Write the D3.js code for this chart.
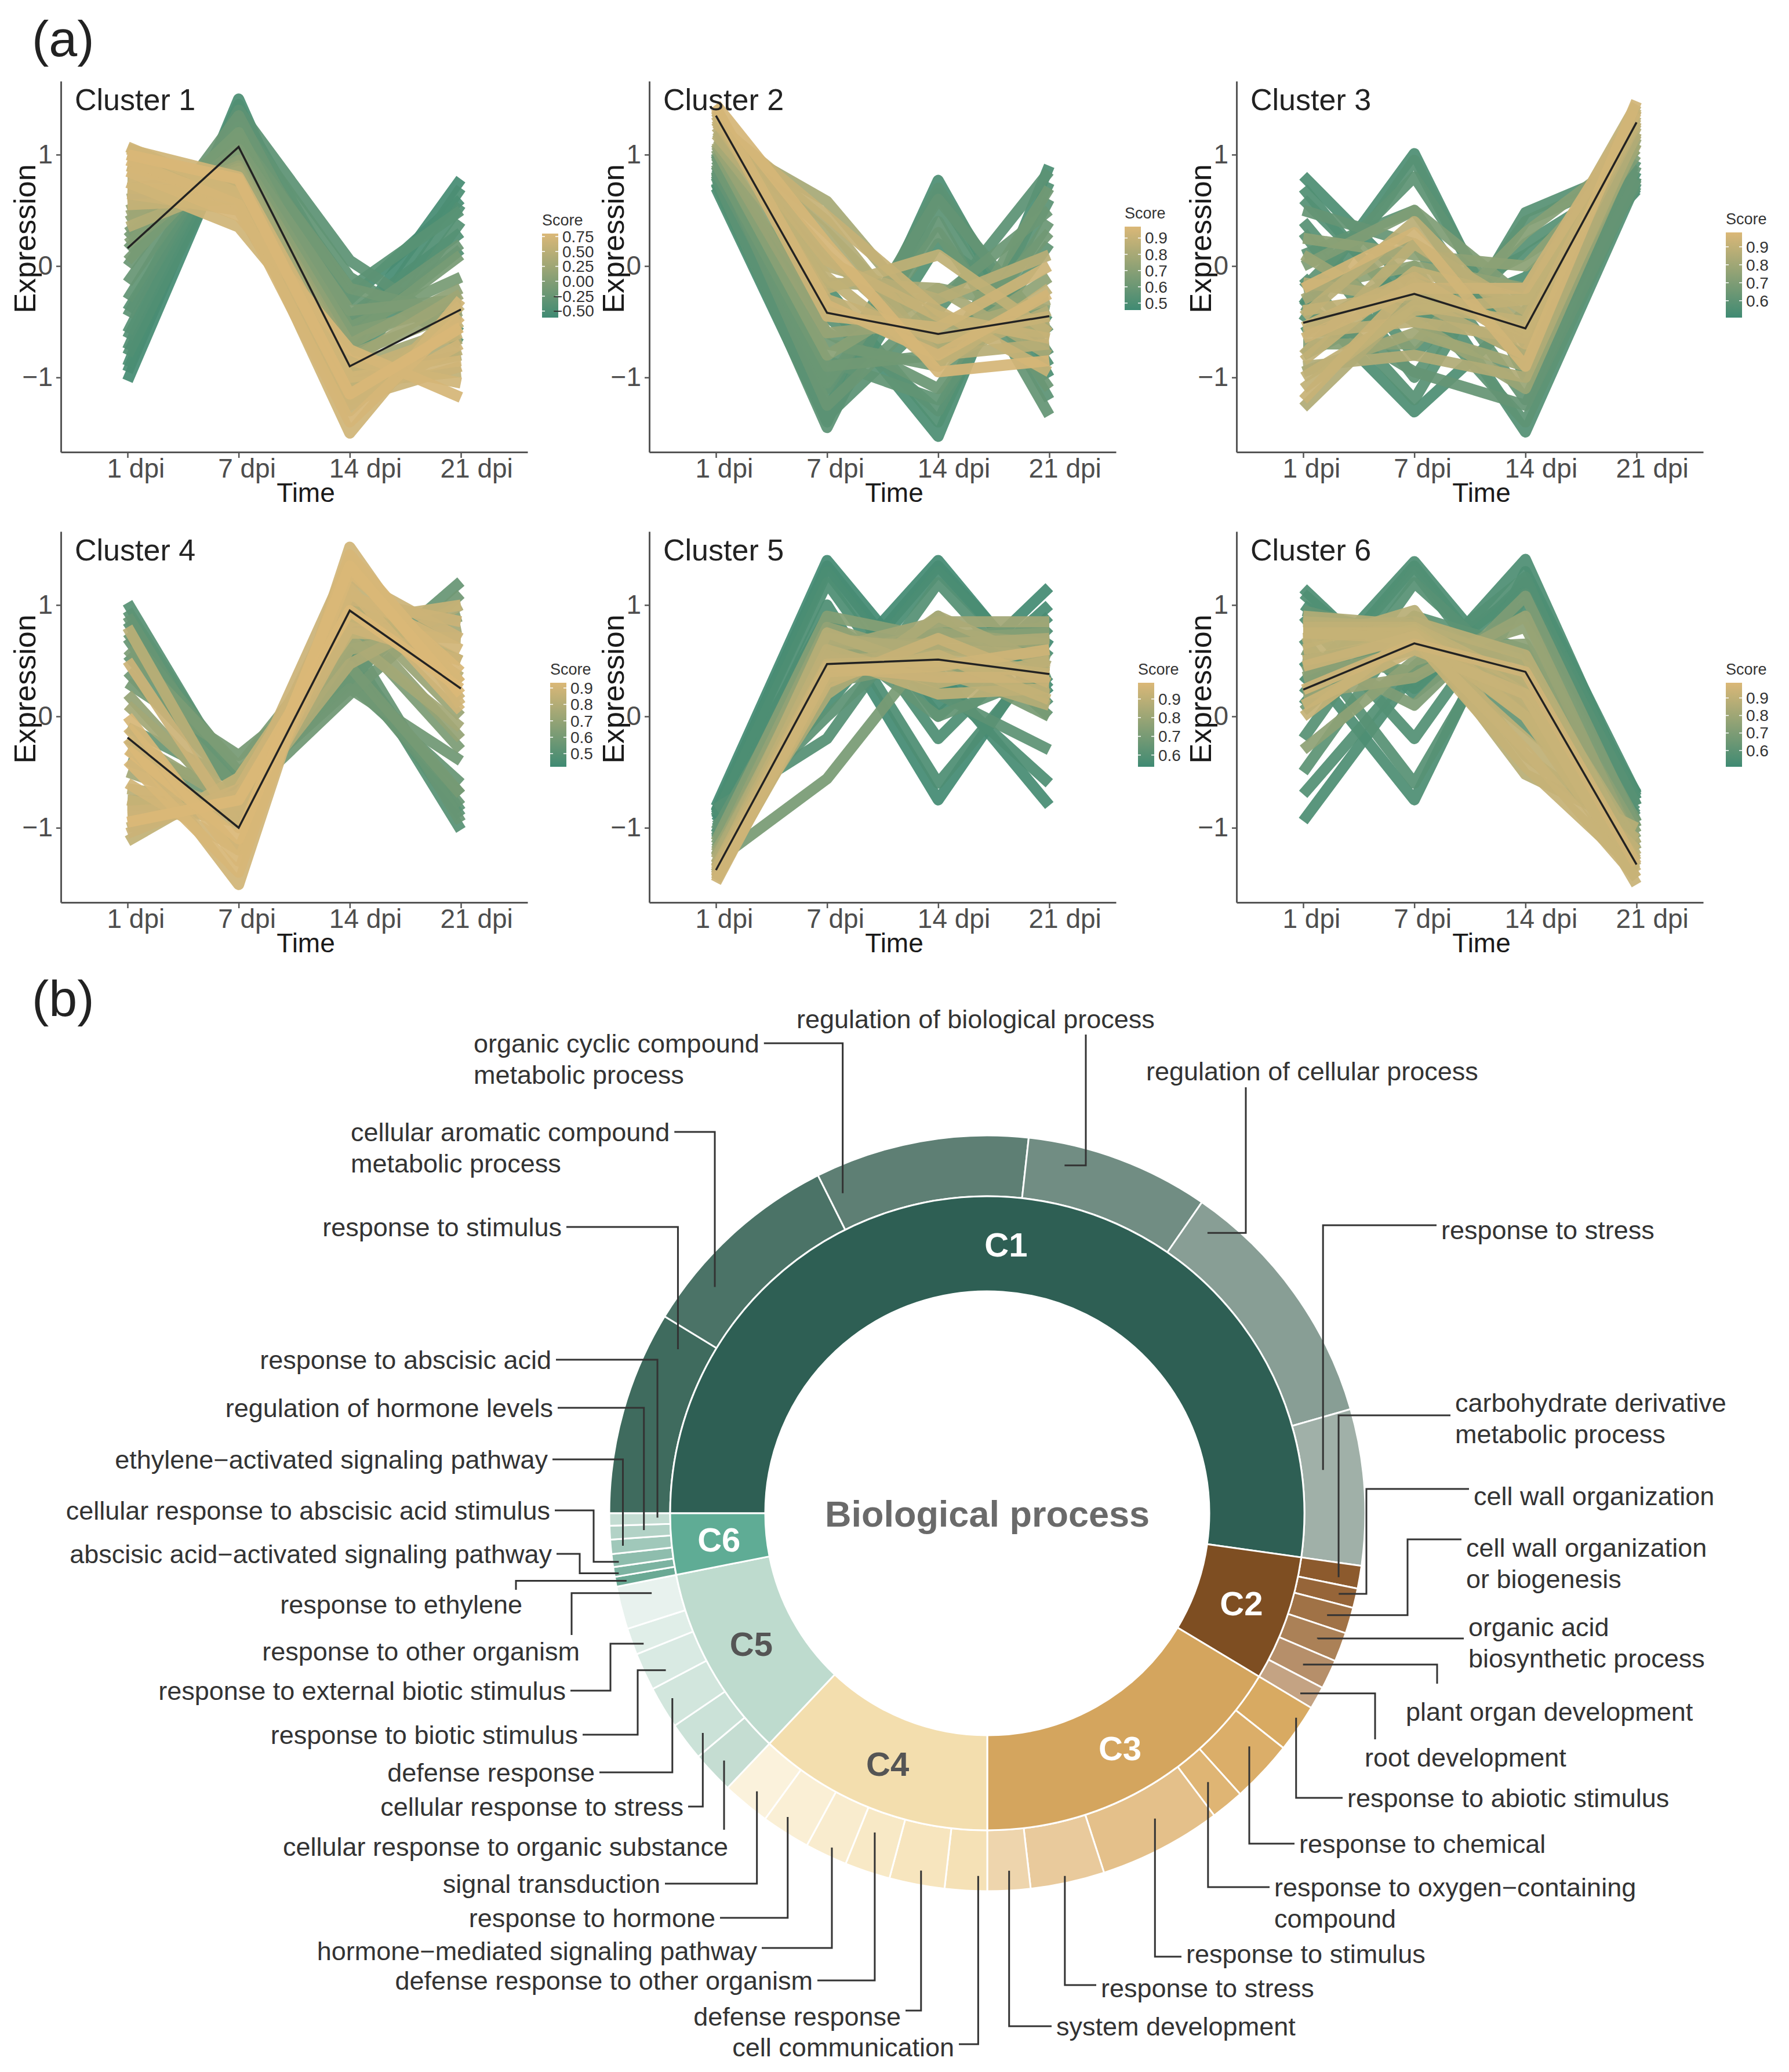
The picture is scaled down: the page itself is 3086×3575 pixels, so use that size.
<!DOCTYPE html>
<html lang="en">
<head>
<meta charset="UTF-8">
<title>Cluster expression profiles and GO terms</title>
<script src="https://d3js.org/d3.v7.min.js"></script>
<style>
  body { margin: 0; background: #fff; }
  svg text { font-family: "Liberation Sans", Arial, sans-serif; }
</style>
</head>
<body>
<svg id="fig" width="3086" height="3575"></svg>
<script>
// ---------- (a) expression profiles ----------
const timepoints = ["1 dpi", "7 dpi", "14 dpi", "21 dpi"];
const clusterTitles = ["Cluster 1", "Cluster 2", "Cluster 3", "Cluster 4", "Cluster 5", "Cluster 6"];

// each row: [1 dpi, 7 dpi, 14 dpi, 21 dpi, score]
const cluster1 = [
  [-1.03, 1.30, -0.60, 0.78, -0.55], [-0.90, 1.50, -0.75, 0.70, -0.50], [-0.75, 1.45, -0.85, 0.55, -0.45],
  [-0.60, 1.35, -0.95, 0.40, -0.40], [-0.45, 1.40, 0.05, -0.60, -0.35], [-0.30, 1.30, -0.10, -0.70, -0.30],
  [-0.15, 1.25, -0.30, -0.50, -0.25], [0.00, 1.35, -0.50, 0.20, -0.20], [0.15, 1.15, -0.20, -0.45, -0.15],
  [0.25, 1.20, -0.65, 0.10, -0.10], [-0.80, 1.20, -0.45, 0.30, -0.45], [0.30, 1.05, -0.40, -0.30, -0.05],
  [0.40, 0.95, -0.70, -0.20, 0.10], [0.50, 0.90, -0.80, -0.40, 0.20], [0.60, 0.85, -0.90, -0.55, 0.30],
  [0.70, 0.80, -1.00, -0.65, 0.40], [0.80, 0.78, -1.10, -0.75, 0.50], [0.90, 0.75, -1.20, -0.50, 0.55],
  [1.00, 0.70, -1.30, -0.35, 0.60], [1.07, 0.65, -1.50, -0.30, 0.70], [0.95, 0.55, -1.40, -0.45, 0.75],
  [0.85, 0.45, -0.75, -1.18, 0.75], [0.75, 0.35, -0.85, -1.05, 0.70], [0.65, 0.50, -1.20, -0.90, 0.65],
  [1.05, 0.80, -1.00, -0.85, 0.70], [0.55, 0.60, -0.95, -0.60, 0.60],
  [-0.95, 1.40, -0.30, 0.60, -0.52], [-0.40, 1.20, -0.20, 0.50, -0.38], [0.05, 1.10, -0.55, -0.10, -0.10],
  [0.20, 1.00, -0.60, -0.35, 0.00], [0.45, 0.88, -0.85, -0.25, 0.25], [0.70, 0.65, -1.05, -0.95, 0.55],
  [0.90, 0.60, -1.25, -0.70, 0.68], [1.00, 0.78, -1.15, -0.55, 0.78], [-0.65, 1.28, -0.65, 0.15, -0.42],
  [0.35, 0.75, -1.00, -0.80, 0.45]
];
const cluster2 = [
  [0.70, -1.40, 0.77, -1.00, 0.50], [0.75, -1.30, 0.65, -0.90, 0.52], [0.80, -1.45, 0.55, -1.20, 0.55],
  [0.85, -1.20, 0.70, -0.80, 0.55], [0.90, -1.10, 0.40, -1.34, 0.58], [0.72, -0.30, -1.53, 0.90, 0.50],
  [0.78, -0.20, -1.40, 0.75, 0.52], [0.88, -0.45, -1.30, 0.60, 0.55], [0.95, -0.60, -1.10, 0.40, 0.60],
  [0.82, -1.35, -0.40, 0.85, 0.55], [1.00, -1.25, -0.30, 0.50, 0.60], [0.92, -0.90, -0.80, 0.30, 0.62],
  [1.05, -0.80, -0.20, -0.40, 0.70], [1.10, -0.60, -0.50, -0.60, 0.75], [1.15, 0.58, -0.60, -0.30, 0.80],
  [1.20, 0.30, -0.70, -0.50, 0.82], [1.25, 0.10, -0.80, -0.70, 0.85], [1.30, -0.10, -0.90, -0.20, 0.88],
  [1.35, -0.30, -0.65, -0.45, 0.90], [1.40, -0.45, -0.55, 0.00, 0.92], [1.45, 0.20, -0.95, -0.85, 0.95],
  [1.28, 0.45, -0.40, -0.95, 0.90], [1.38, -0.20, 0.10, -0.60, 0.88], [1.18, 0.00, -0.30, 0.10, 0.85],
  [0.74, -1.38, 0.20, -0.50, 0.52], [0.86, -1.00, 0.60, -0.60, 0.58], [0.98, -0.70, -0.90, 0.70, 0.62],
  [1.08, -0.40, -0.75, -0.10, 0.72], [1.22, 0.40, -0.85, -0.40, 0.84], [1.32, 0.05, -0.45, -0.65, 0.90],
  [1.42, -0.35, -0.80, -0.25, 0.94], [1.12, -0.15, -0.20, -0.80, 0.80], [0.84, -0.85, -1.20, 0.20, 0.57],
  [1.02, -1.05, 0.30, -1.10, 0.60]
];
const cluster3 = [
  [0.81, -0.20, -0.60, 0.70, 0.55], [0.60, -0.40, 0.10, 0.75, 0.57], [-0.35, 1.01, -1.00, 0.85, 0.55],
  [-0.50, 0.95, -0.95, 0.80, 0.58], [-0.20, 0.80, -0.70, 0.95, 0.60], [0.10, 0.50, -0.90, 0.72, 0.60],
  [-0.30, -1.31, -0.40, 0.68, 0.55], [-0.10, -1.20, 0.48, 0.90, 0.58], [0.30, -1.00, 0.40, 0.85, 0.60],
  [-0.60, 0.00, -1.49, 0.75, 0.57], [-0.80, -0.30, -1.40, 0.80, 0.60], [0.50, 0.20, -1.20, 0.90, 0.62],
  [0.00, 0.50, -0.30, 1.00, 0.70], [-0.20, 0.00, -0.20, 1.10, 0.75], [-0.70, -0.70, 0.30, 1.05, 0.72],
  [0.10, -0.50, -1.10, 1.15, 0.78], [-0.40, -0.25, -0.56, 1.30, 0.90], [-0.55, -0.10, -0.70, 1.40, 0.92],
  [-0.80, 0.20, -0.40, 1.35, 0.88], [-1.00, -0.40, -0.30, 1.45, 0.90], [-1.27, -0.30, -0.80, 1.25, 0.85],
  [-0.90, -0.80, -1.00, 1.20, 0.85], [-0.20, 0.30, -0.90, 1.48, 0.95], [-0.65, -0.20, -0.20, 1.38, 0.93],
  [-1.10, -0.35, -0.50, 1.42, 0.90], [-0.45, 0.40, -0.60, 1.30, 0.88],
  [0.70, -0.50, -0.10, 0.78, 0.56], [0.40, -0.80, 0.20, 0.82, 0.58], [-0.30, 0.20, -0.45, 1.20, 0.82],
  [-0.60, -0.50, -0.65, 1.28, 0.88], [-0.85, -0.05, -0.30, 1.33, 0.90], [-0.15, -0.30, -0.80, 1.18, 0.84],
  [-0.95, -0.60, -0.90, 1.10, 0.80], [0.25, 0.10, 0.00, 1.05, 0.74], [-1.20, -0.15, -0.60, 1.40, 0.92],
  [-0.35, -0.95, -1.25, 0.78, 0.62]
];
const cluster4 = [
  [1.02, -0.65, 0.60, -1.02, 0.50], [0.85, -0.60, 0.50, -0.90, 0.52], [0.70, -0.70, 0.40, -0.80, 0.55],
  [0.55, -0.55, 0.30, -0.60, 0.55], [0.40, -0.65, 0.25, -0.40, 0.58], [0.90, -0.70, 0.70, -0.95, 0.55],
  [0.30, -0.35, 0.45, -0.70, 0.60], [0.60, -0.45, 0.80, -0.30, 0.62], [-0.10, -0.60, 0.35, 1.21, 0.55],
  [-0.40, -0.75, 0.20, 1.10, 0.58], [0.20, -0.90, 0.90, -0.20, 0.70], [-0.20, -0.80, 1.00, 0.00, 0.72],
  [-0.50, -0.85, 0.60, 0.80, 0.75], [-0.75, -0.80, 0.47, 1.00, 0.78], [-0.80, -0.85, 1.20, 0.30, 0.85],
  [-0.85, -0.80, 1.40, 0.15, 0.88], [-0.20, -1.51, 1.52, 0.10, 0.90], [0.00, -1.30, 1.30, 0.40, 0.92],
  [-0.60, -1.20, 1.10, 0.60, 0.90], [-1.12, -0.55, 0.90, 0.50, 0.85], [-0.95, -0.75, 0.95, 0.25, 0.93],
  [-0.30, -1.10, 1.35, 0.20, 0.93], [0.50, -1.00, 0.80, 0.50, 0.88], [-1.00, -0.70, 0.75, 0.70, 0.85],
  [0.80, -0.95, 1.00, 0.35, 0.82],
  [0.95, -0.62, 0.55, -0.85, 0.52], [0.75, -0.50, 0.35, -0.70, 0.56], [-0.30, -0.70, 0.60, 0.90, 0.65],
  [-0.65, -0.80, 1.00, 0.50, 0.82], [-0.90, -0.85, 1.25, 0.70, 0.88], [-0.40, -1.40, 1.45, 0.30, 0.92],
  [-0.10, -1.20, 1.15, 0.05, 0.90], [-0.75, -0.95, 0.85, 1.00, 0.86], [0.10, -0.80, 0.70, -0.10, 0.75],
  [-1.05, -0.65, 1.05, 0.85, 0.88]
];
const cluster5 = [
  [-0.81, 1.40, 0.20, 1.16, 0.55], [-0.85, 1.30, 0.00, 0.90, 0.57], [-0.90, 1.20, -0.20, 0.80, 0.58],
  [-0.95, 0.30, 1.40, 0.20, 0.55], [-1.00, 0.10, 1.30, 0.30, 0.57], [-0.88, 0.90, -0.75, 0.70, 0.55],
  [-1.05, 1.00, -0.60, 0.60, 0.58], [-0.92, 0.60, 0.40, -0.80, 0.56], [-1.10, 0.50, 0.30, -0.60, 0.58],
  [-0.83, -0.20, 1.20, 0.10, 0.60], [-0.98, 0.00, 0.90, 0.00, 0.62], [-1.08, 0.85, 0.20, -0.30, 0.62],
  [-1.15, 0.70, 0.60, 0.60, 0.72], [-1.20, 0.40, 0.80, 0.50, 0.75], [-1.25, 0.80, 0.50, 0.20, 0.78],
  [-1.30, -0.56, 0.70, 0.80, 0.70], [-1.35, 0.50, 0.55, 0.40, 0.88], [-1.38, 0.47, 0.50, 0.38, 0.92],
  [-1.42, 0.60, 0.30, 0.50, 0.90], [-1.45, 0.30, 0.70, 0.30, 0.93], [-1.49, 0.40, 0.45, 0.60, 0.95],
  [-1.40, 0.75, 0.40, 0.10, 0.88], [-1.33, 0.20, 0.90, 0.45, 0.85], [-1.28, 0.65, 0.65, 0.70, 0.85],
  [-1.36, 0.55, 0.20, 0.25, 0.90],
  [-0.86, 1.35, 0.10, 1.00, 0.56], [-0.93, 0.20, 1.35, 0.25, 0.56], [-1.12, 0.90, 0.70, 0.75, 0.74],
  [-1.22, 0.55, 0.75, 0.65, 0.80], [-1.32, 0.70, 0.60, 0.55, 0.86], [-1.44, 0.45, 0.35, 0.35, 0.94],
  [-1.18, 0.30, 0.50, 0.00, 0.70], [-1.02, 0.75, 0.00, 0.40, 0.64], [-1.26, 0.60, 0.85, 0.85, 0.82],
  [-1.47, 0.35, 0.55, 0.15, 0.92]
];
const cluster6 = [
  [1.15, 0.20, 1.00, -0.69, 0.55], [1.00, 0.30, 1.41, -0.80, 0.55], [0.90, -0.20, 1.20, -0.75, 0.57],
  [0.30, 1.39, 0.20, -0.90, 0.55], [0.10, 1.30, 0.00, -0.85, 0.57], [-0.20, 1.20, 0.30, -1.00, 0.58],
  [0.50, -0.75, 1.30, -0.70, 0.55], [0.70, -0.60, 1.10, -0.80, 0.58], [-0.94, 0.40, 1.15, -0.75, 0.55],
  [-0.70, 0.45, 1.25, -0.95, 0.57], [-0.50, 0.90, 0.60, -1.05, 0.60], [0.95, 0.70, -0.10, -0.90, 0.62],
  [0.60, 0.10, 1.08, -1.00, 0.70], [0.40, 0.80, 0.50, -1.10, 0.72], [-0.30, 0.50, 0.80, -1.15, 0.75],
  [0.20, 0.35, 0.90, -1.20, 0.78], [0.80, 0.80, 0.30, -1.30, 0.90], [0.75, 0.75, 0.10, -1.40, 0.92],
  [0.24, 0.65, 0.40, -1.33, 0.95], [0.50, 0.70, -0.20, -1.20, 0.90], [0.85, 0.80, -0.52, -1.00, 0.88],
  [0.65, 0.95, -0.35, -1.10, 0.88], [0.10, 0.60, 0.20, -1.51, 0.93], [0.00, 0.75, 0.00, -1.45, 0.92],
  [0.80, 0.85, 0.55, -1.25, 0.88],
  [1.10, 0.25, 1.20, -0.72, 0.56], [0.20, 1.35, 0.10, -0.88, 0.56], [0.70, 0.80, 0.20, -1.35, 0.90],
  [0.60, 0.78, 0.00, -1.28, 0.91], [0.45, 0.72, -0.30, -1.45, 0.93], [0.90, 0.82, 0.45, -1.15, 0.86],
  [0.35, 0.60, 0.65, -1.05, 0.74], [0.05, 0.90, 0.35, -1.00, 0.66], [0.55, 0.40, 0.90, -0.95, 0.68],
  [0.75, 0.70, -0.45, -1.38, 0.92]
];
const profiles = [cluster1, cluster2, cluster3, cluster4, cluster5, cluster6];

const centroids = [
  [0.16, 1.07, -0.90, -0.39],
  [1.35, -0.42, -0.61, -0.45],
  [-0.51, -0.25, -0.56, 1.29],
  [-0.19, -1.00, 0.95, 0.25],
  [-1.38, 0.47, 0.51, 0.38],
  [0.24, 0.655, 0.40, -1.33]
];
const scoreDomains = [[-0.61, 0.80], [0.457, 0.97], [0.506, 0.98], [0.42, 0.932], [0.537, 0.987], [0.507, 0.987]];
const scoreTicks = [
  [0.75, 0.50, 0.25, 0.00, -0.25, -0.50],
  [0.9, 0.8, 0.7, 0.6, 0.5],
  [0.9, 0.8, 0.7, 0.6],
  [0.9, 0.8, 0.7, 0.6, 0.5],
  [0.9, 0.8, 0.7, 0.6],
  [0.9, 0.8, 0.7, 0.6]
];
const yTicks = [-1, 0, 1];

// ---------- (b) GO terms per cluster ----------
const clusterIds = ["C1", "C2", "C3", "C4", "C5", "C6"];
const goTerms = [
  ["response to stimulus", "cellular aromatic compound metabolic process", "organic cyclic compound metabolic process",
   "regulation of biological process", "regulation of cellular process", "response to stress"],
  ["carbohydrate derivative metabolic process", "cell wall organization", "cell wall organization or biogenesis",
   "organic acid biosynthetic process", "plant organ development", "root development"],
  ["response to abiotic stimulus", "response to chemical", "response to oxygen\u2212containing compound",
   "response to stimulus", "response to stress", "system development"],
  ["cell communication", "defense response", "defense response to other organism",
   "hormone\u2212mediated signaling pathway", "response to hormone", "signal transduction"],
  ["cellular response to organic substance", "cellular response to stress", "defense response",
   "response to biotic stimulus", "response to external biotic stimulus", "response to other organism"],
  ["response to ethylene", "abscisic acid\u2212activated signaling pathway", "cellular response to abscisic acid stimulus",
   "ethylene\u2212activated signaling pathway", "regulation of hormone levels", "response to abscisic acid"]
];
const termSizes = [
  [31.4, 32.0, 32.9, 28.3, 39.4, 24.0],
  [3.5, 3.0, 4.0, 4.5, 4.5, 3.5],
  [7.4, 9.6, 5.1, 18.9, 11.4, 6.6],
  [6.5, 8.5, 7.0, 6.5, 7.5, 7.4],
  [6.5, 5.9, 6.5, 5.8, 4.1, 6.6],
  [1.5, 1.5, 2.0, 2.2, 2.1, 1.9]
];

// ---------- styles / layout ----------
const green = "#3f8a73", tan = "#dbb877";
const innerColors = ["#2e5f54", "#7e4e22", "#d4a55e", "#f3deae", "#bedbce", "#5fac95"];
const innerLabelColors = ["#fff", "#fff", "#fff", "#555", "#555", "#fff"];
const outerColors = [
  ["#3f6b5e", "#4b7367", "#5e7f74", "#718d83", "#889e95", "#a0b0a8"],
  ["#8c5a2d", "#966539", "#a07246", "#ab8157", "#b68f6a", "#c4a383"],
  ["#d8aa62", "#dbae69", "#dfb574", "#e4c08a", "#e9ca9c", "#eed5ad"],
  ["#f5e1b6", "#f7e5be", "#f8e9c6", "#f9ecce", "#faefd5", "#fbf2dc"],
  ["#c5ddd2", "#cbe2d8", "#d2e6dd", "#d9eae3", "#e0eee8", "#e8f2ee"],
  ["#6aa994", "#7cb3a1", "#8ebdad", "#a0c8ba", "#b2d2c6", "#c3dcd2"]
];

const svg = d3.select("#fig");
svg.append("rect").attr("width", 3086).attr("height", 3575).attr("fill", "#fff");

svg.append("text").attr("x", 55).attr("y", 97).attr("font-size", 88).attr("fill", "#222").text("(a)");
svg.append("text").attr("x", 55).attr("y", 1753).attr("font-size", 88).attr("fill", "#222").text("(b)");

const panelX = [105, 1120, 2133], panelW = 805;
const panelY = [140, 917], panelH = 640;
const legendPos = [
  {x: 935, top: 403, h: 145}, {x: 1940, top: 391, h: 144}, {x: 2977, top: 401, h: 147},
  {x: 949, top: 1178, h: 145}, {x: 1963, top: 1178, h: 145}, {x: 2977, top: 1178, h: 145}
];

const defs = svg.append("defs");

profiles.forEach((rows, ci) => {
  const x0 = panelX[ci % 3], y0 = panelY[Math.floor(ci / 3)];
  const g = svg.append("g");

  const x = d3.scalePoint().domain(timepoints).range([x0, x0 + panelW]).padding(0.6);
  const y = d3.scaleLinear().domain([-1.67, 1.66]).range([y0 + panelH, y0]);
  const color = d3.scaleLinear().domain(scoreDomains[ci]).range([green, tan]).clamp(true);

  const line = d3.line().x((d, i) => x(timepoints[i])).y(d => y(d));

  const sorted = rows.slice().sort((a, b) => a[4] - b[4]);
  g.selectAll(".gene")
    .data(sorted)
    .enter().append("path")
    .attr("d", d => line(d.slice(0, 4)))
    .attr("fill", "none")
    .attr("stroke", d => color(d[4]))
    .attr("stroke-width", 19)
    .attr("stroke-opacity", 0.93)
    .attr("stroke-linejoin", "round");

  g.append("path")
    .attr("d", line(centroids[ci]))
    .attr("fill", "none")
    .attr("stroke", "#222")
    .attr("stroke-width", 3.5);

  // axes
  const xAxis = g.append("g")
    .attr("transform", `translate(0,${y0 + panelH})`)
    .call(d3.axisBottom(x).tickSize(10).tickSizeOuter(0));
  xAxis.select(".domain").attr("stroke", "#555").attr("stroke-width", 3);
  xAxis.selectAll(".tick line").attr("stroke", "#555").attr("stroke-width", 2.5);
  xAxis.selectAll(".tick text")
    .attr("font-size", 46).attr("fill", "#4d4d4d")
    .attr("font-family", "Liberation Sans, Arial, sans-serif")
    .attr("text-anchor", "start").attr("x", -36).attr("y", 44).attr("dy", 0);

  const yAxis = g.append("g")
    .attr("transform", `translate(${x0},0)`)
    .call(d3.axisLeft(y).tickValues(yTicks).tickFormat(d3.format("d")).tickSize(8).tickSizeOuter(0).tickPadding(6));
  yAxis.select(".domain").attr("stroke", "#555").attr("stroke-width", 3);
  yAxis.selectAll(".tick line").attr("stroke", "#555").attr("stroke-width", 2.5);
  yAxis.selectAll(".tick text").attr("font-size", 46).attr("fill", "#4d4d4d")
    .attr("font-family", "Liberation Sans, Arial, sans-serif");

  // axis titles
  g.append("text")
    .attr("transform", `translate(${x0 - 44},${y0 + 272}) rotate(-90)`)
    .attr("text-anchor", "middle").attr("font-size", 52).attr("fill", "#1a1a1a")
    .text("Expression");
  g.append("text")
    .attr("x", x0 + panelW / 2 + 20).attr("y", y0 + panelH + 86)
    .attr("text-anchor", "middle").attr("font-size", 46).attr("fill", "#1a1a1a")
    .text("Time");
  g.append("text")
    .attr("x", x0 + 24).attr("y", y0 + 50)
    .attr("font-family", "Open Sans, sans-serif").attr("font-size", 52).attr("fill", "#222")
    .text(clusterTitles[ci]);

  // colour bar legend
  const lp = legendPos[ci];
  const gradId = "grad" + ci;
  const grad = defs.append("linearGradient").attr("id", gradId)
    .attr("x1", 0).attr("y1", 0).attr("x2", 0).attr("y2", 1);
  d3.range(0, 1.0001, 0.1).forEach(t => {
    grad.append("stop").attr("offset", t).attr("stop-color", d3.interpolateRgb(tan, green)(t));
  });
  const ls = d3.scaleLinear().domain(scoreDomains[ci]).range([lp.top + lp.h, lp.top]);
  g.append("text").attr("x", lp.x).attr("y", lp.top - 14)
    .attr("font-size", 27).attr("fill", "#333").text("Score");
  g.append("rect").attr("x", lp.x).attr("y", lp.top).attr("width", 28).attr("height", lp.h)
    .attr("fill", `url(#${gradId})`);
  const fmt = ci === 0 ? d3.format(".2f") : d3.format(".1f");
  scoreTicks[ci].forEach(v => {
    const ty = ls(v);
    g.append("line").attr("x1", lp.x).attr("x2", lp.x + 5).attr("y1", ty).attr("y2", ty)
      .attr("stroke", "#fff").attr("stroke-width", 1.5);
    g.append("line").attr("x1", lp.x + 23).attr("x2", lp.x + 28).attr("y1", ty).attr("y2", ty)
      .attr("stroke", "#fff").attr("stroke-width", 1.5);
    g.append("text")
      .attr("x", lp.x + 35 - (v < 0 ? 16 : 0)).attr("y", ty).attr("dy", "0.35em")
      .attr("font-size", 28).attr("fill", "#333").text(fmt(v));
  });
});

// ---------- (b) sunburst ----------
const cx = 1703, cy = 2611, r0 = 383, r1 = 547, r2 = 652;
const gb = svg.append("g");

const flat = [];
termSizes.forEach((arr, ci) => arr.forEach((v, ti) => flat.push({ci, ti, v, name: goTerms[ci][ti]})));

const pie = d3.pie().sort(null).value(d => d.v).startAngle(-Math.PI / 2).endAngle(3 * Math.PI / 2);
const outerArcs = pie(flat);
const innerArcs = pie(termSizes.map((arr, ci) => ({ci, v: d3.sum(arr)})));

const innerArc = d3.arc().innerRadius(r0).outerRadius(r1);
const outerArc = d3.arc().innerRadius(r1).outerRadius(r2);

const ring = gb.append("g").attr("transform", `translate(${cx},${cy})`);
ring.selectAll(".outer").data(outerArcs).enter().append("path")
  .attr("d", outerArc)
  .attr("fill", d => outerColors[d.data.ci][d.data.ti])
  .attr("stroke", "#fff").attr("stroke-width", 3);
ring.selectAll(".inner").data(innerArcs).enter().append("path")
  .attr("d", innerArc)
  .attr("fill", d => innerColors[d.data.ci])
  .attr("stroke", "#fff").attr("stroke-width", 3);
ring.selectAll(".clab").data(innerArcs).enter().append("text")
  .attr("transform", d => `translate(${innerArc.centroid(d)})`)
  .attr("text-anchor", "middle").attr("dy", "0.36em")
  .attr("font-size", 58).attr("font-weight", "bold")
  .attr("fill", d => innerLabelColors[d.data.ci])
  .text(d => clusterIds[d.data.ci]);

gb.append("text").attr("x", cx).attr("y", cy).attr("dy", "0.36em")
  .attr("text-anchor", "middle").attr("font-size", 63).attr("font-weight", "bold")
  .attr("fill", "#6a6a6a").text("Biological process");

// label placement for each outer slice (same order as flat)
const labelLayout = [
  {x: 969, y: 2117, anchor: "end", leg: "hv", f: 0.89, r: 604},
  {x: 605, y: 1953, anchor: "start", wrap: 3, leg: "hv", fromEnd: true, f: 0.26, r: 611},
  {x: 817, y: 1800, anchor: "start", wrap: 3, leg: "hv", fromEnd: true, f: 0.07, r: 606},
  {x: 1374, y: 1758, anchor: "start", leg: "vh", ax: 1873, ay: 1785, f: 0.22, r: 615},
  {x: 1977, y: 1848, anchor: "start", leg: "vh", ax: 2149, ay: 1876, f: 0.09, r: 615},
  {x: 2486, y: 2122, anchor: "start", leg: "hv", dyA: -8, f: 0.36, r: 584},

  {x: 2510, y: 2420, anchor: "start", wrap: 2, leg: "hv", dyA: 22, f: 0.66, r: 616},
  {x: 2542, y: 2581, anchor: "start", leg: "hvh", bx: 2357, dyA: -12, f: 0.47, r: 622},
  {x: 2529, y: 2670, anchor: "start", wrap: 3, leg: "hvh", bx: 2428, dyA: -14, f: 0.55, r: 612},
  {x: 2533, y: 2807, anchor: "start", wrap: 2, leg: "hv", dyA: 20, f: 0.51, r: 610},
  {x: 2425, y: 2953, anchor: "start", leg: "vh", ax: 2479, ay: 2905, f: 0.58, r: 604},
  {x: 2354, y: 3032, anchor: "start", leg: "vh", ax: 2372, ay: 3001, f: 0.69, r: 623},

  {x: 2324, y: 3102, anchor: "start", leg: "hv", f: 0.34, r: 639},
  {x: 2241, y: 3181, anchor: "start", leg: "hv", f: 0.34, r: 605},
  {x: 2198, y: 3256, anchor: "start", wrap: 3, leg: "hv", f: 0.51, r: 600},
  {x: 2046, y: 3371, anchor: "start", leg: "hv", dyA: 5, f: 0.43, r: 601},
  {x: 1899, y: 3430, anchor: "start", leg: "hv", dyA: -5, f: 0.52, r: 640},
  {x: 1822, y: 3496, anchor: "start", leg: "hv", f: 0.47, r: 618},

  {x: 1646, y: 3532, anchor: "end", leg: "hv", dyA: -5, f: 0.22, r: 626},
  {x: 1554, y: 3479, anchor: "end", leg: "hv", dyA: -10, f: 0.47, r: 627},
  {x: 1402, y: 3417, anchor: "end", leg: "hv", f: 0.63, r: 584},
  {x: 1306, y: 3366, anchor: "end", leg: "hv", dyA: -5, f: 0.45, r: 636},
  {x: 1234, y: 3309, anchor: "end", leg: "hv", f: 0.64, r: 627},
  {x: 1139, y: 3250, anchor: "end", leg: "hv", f: 0.49, r: 623},

  {x: 1256, y: 3186, anchor: "end", leg: "v", ay: 3157, f: 0.52, r: 623},
  {x: 1179, y: 3117, anchor: "end", leg: "hv", f: 0.41, r: 620},
  {x: 1026, y: 3058, anchor: "end", leg: "hv", f: 0.58, r: 630},
  {x: 997, y: 2993, anchor: "end", leg: "hvh", bx: 1100, f: 0.29, r: 617},
  {x: 976, y: 2917, anchor: "end", leg: "hvh", bx: 1053, f: 0.27, r: 634},
  {x: 1000, y: 2849, anchor: "end", leg: "vh", ax: 986, ay: 2821, f: 0.67, r: 595},

  {x: 901, y: 2768, anchor: "end", leg: "vh", ax: 890, ay: 2743, f: 0.4, r: 633},
  {x: 952, y: 2681, anchor: "end", leg: "hvh", bx: 1000, f: 0.3, r: 644},
  {x: 949, y: 2606, anchor: "end", leg: "hvh", bx: 1024, f: 0.35, r: 641},
  {x: 945, y: 2518, anchor: "end", leg: "hv", f: 0.5, r: 631},
  {x: 954, y: 2429, anchor: "end", leg: "hv", f: 0.57, r: 593},
  {x: 951, y: 2346, anchor: "end", leg: "hv", f: 0.6, r: 569}
];

const labelSize = 45, lineGap = 54, gap = 8;
const leader = d3.line();
const labelG = gb.append("g");

outerArcs.forEach((a, i) => {
  const L = labelLayout[i];
  const words = a.data.name.split(" ");
  const lines = L.wrap ? [words.slice(0, L.wrap).join(" "), words.slice(L.wrap).join(" ")] : [a.data.name];

  const t = labelG.append("text")
    .attr("x", L.x).attr("y", L.y).attr("text-anchor", L.anchor)
    .attr("font-size", labelSize).attr("fill", "#333");
  const spans = lines.map((s, k) => t.append("tspan").attr("x", L.x).attr("dy", k === 0 ? "0.35em" : lineGap).text(s));

  const ang = a.startAngle + L.f * (a.endAngle - a.startAngle);
  const E = [cx + L.r * Math.sin(ang), cy - L.r * Math.cos(ang)];
  const ay = L.y + (L.dyA || 0);
  let A;
  if (L.ax !== undefined) A = [L.ax, L.ay];
  else if (L.anchor === "end") A = [L.x + gap, ay];
  else if (L.fromEnd) A = [L.x + spans[0].node().getComputedTextLength() + gap, ay];
  else A = [L.x - gap, ay];

  let pts;
  if (L.leg === "hv") pts = [A, [E[0], A[1]], E];
  else if (L.leg === "vh") pts = [A, [A[0], E[1]], E];
  else if (L.leg === "hvh") pts = [A, [L.bx, A[1]], [L.bx, E[1]], E];
  else pts = [[E[0], L.ay], E];

  labelG.append("path").attr("d", leader(pts))
    .attr("fill", "none").attr("stroke", "#333").attr("stroke-width", 3);
});
</script>
</body>
</html>
